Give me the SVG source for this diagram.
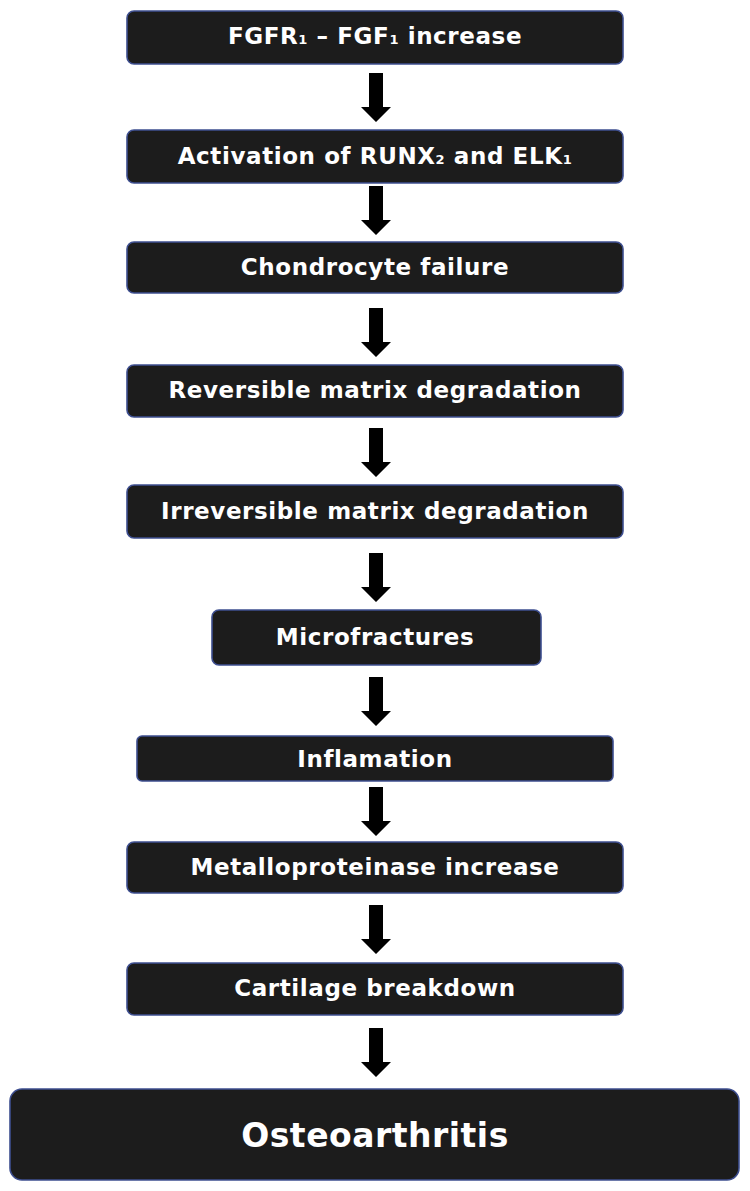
<svg xmlns="http://www.w3.org/2000/svg" width="750" height="1191" viewBox="0 0 750 1191">
<style>
.box{fill:#1c1c1c;stroke:#3e4f90;stroke-width:1.6}
.t{fill:#ffffff;font-family:"DejaVu Sans","Liberation Sans",Arial,sans-serif;font-weight:bold;font-size:23px;letter-spacing:0.6px;text-anchor:middle}
.big{font-size:33px;letter-spacing:0.5px}
.sub{font-size:13px}
.arr{fill:#000000}
</style>
<defs>
<path id="arrow" d="M-7,0 H7 V34 H15 L0,49 L-15,34 H-7 Z"/>
</defs>
<rect width="750" height="1191" fill="#ffffff"/>
<g id="n1"><rect class="box" x="127" y="11" width="496" height="53" rx="7"/><text class="t" x="375" y="44">FGFR<tspan class="sub">1</tspan> – FGF<tspan class="sub">1</tspan> increase</text></g>
<g id="n2"><rect class="box" x="127" y="130" width="496" height="53" rx="7"/><text class="t" x="375" y="164">Activation of RUNX<tspan class="sub">2</tspan> and ELK<tspan class="sub">1</tspan></text></g>
<g id="n3"><rect class="box" x="127" y="242" width="496" height="51" rx="7"/><text class="t" x="375" y="275">Chondrocyte failure</text></g>
<g id="n4"><rect class="box" x="127" y="365" width="496" height="52" rx="7"/><text class="t" x="375" y="398">Reversible matrix degradation</text></g>
<g id="n5"><rect class="box" x="127" y="485" width="496" height="53" rx="7"/><text class="t" x="375" y="519">Irreversible matrix degradation</text></g>
<g id="n6"><rect class="box" x="212" y="610" width="329" height="55" rx="7"/><text class="t" x="375" y="645">Microfractures</text></g>
<g id="n7"><rect class="box" x="137" y="736" width="476" height="45" rx="5"/><text class="t" x="375" y="767">Inflamation</text></g>
<g id="n8"><rect class="box" x="127" y="842" width="496" height="51" rx="7"/><text class="t" x="375" y="875">Metalloproteinase increase</text></g>
<g id="n9"><rect class="box" x="127" y="963" width="496" height="52" rx="7"/><text class="t" x="375" y="996">Cartilage breakdown</text></g>
<g id="n10"><rect class="box" x="10" y="1089" width="729" height="91" rx="12"/><text class="t big" x="375" y="1147">Osteoarthritis</text></g>
<g id="connectors">
<use href="#arrow" class="arr" x="376" y="73"/>
<use href="#arrow" class="arr" x="376" y="186"/>
<use href="#arrow" class="arr" x="376" y="308"/>
<use href="#arrow" class="arr" x="376" y="428"/>
<use href="#arrow" class="arr" x="376" y="553"/>
<use href="#arrow" class="arr" x="376" y="677"/>
<use href="#arrow" class="arr" x="376" y="787"/>
<use href="#arrow" class="arr" x="376" y="905"/>
<use href="#arrow" class="arr" x="376" y="1028"/>
</g>
</svg>
